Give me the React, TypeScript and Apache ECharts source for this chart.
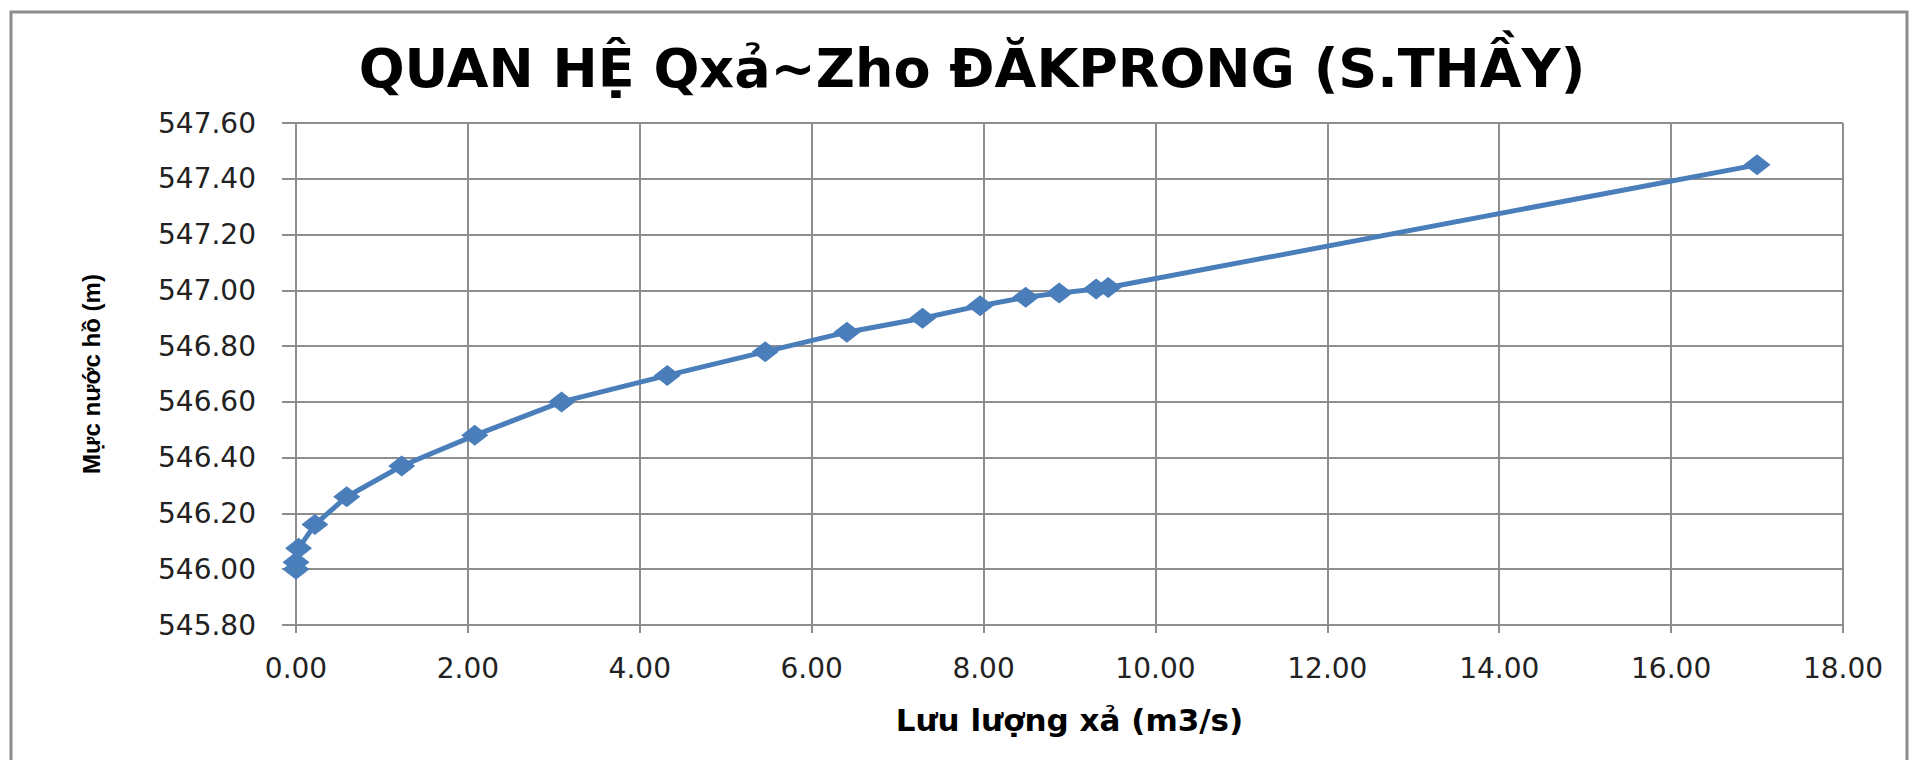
import React, { useEffect, useRef } from "react";
import * as echarts from "echarts";

const chartTitle = "QUAN HỆ Qxả~Zho ĐĂKPRONG (S.THẦY)";
const xAxisTitle = "Lưu lượng xả (m3/s)";
const yAxisTitle = "Mực nước hồ (m)";

// Discharge Q (m3/s)
const dischargeQ = [0, 0, 0.03, 0.22, 0.59, 1.23, 2.08, 3.09, 4.32, 5.46, 6.41, 7.29, 7.96, 8.49, 8.88, 9.31, 9.45, 17.0];
// Reservoir water level Z (m)
const waterLevelZ = [546.0, 546.025, 546.075, 546.16, 546.26, 546.37, 546.48, 546.6, 546.695, 546.78, 546.85, 546.9, 546.945, 546.975, 546.99, 547.005, 547.01, 547.45];

const xMin = 0;
const xMax = 18;
const xStep = 2;
const yMin = 545.8;
const yMax = 547.6;
const yStep = 0.2;

export default function App() {
  const ref = useRef<HTMLDivElement>(null);

  useEffect(() => {
    if (!ref.current) return;
    const chart = echarts.init(ref.current, undefined, { renderer: "svg" });
    const points = dischargeQ.map((q, i) => [q, waterLevelZ[i]]);
    const gridColor = "#8E8E8E";
    chart.setOption({
      animation: false,
      backgroundColor: "#ffffff",
      grid: { left: 296, right: 71, top: 123, bottom: 135, containLabel: false },
      graphic: [
        {
          type: "rect",
          shape: { x: 11, y: 12, width: 1896, height: 780 },
          style: { fill: "none", stroke: "#8C8C8C", lineWidth: 3 },
          silent: true,
        },
        {
          type: "text",
          x: 972,
          y: 68,
          style: {
            text: chartTitle,
            fontFamily: "DejaVu Sans",
            fontWeight: "bold",
            fontSize: 54,
            fill: "#000000",
            align: "center",
            verticalAlign: "middle",
          },
        },
      ],
      xAxis: {
        type: "value",
        min: xMin,
        max: xMax,
        interval: xStep,
        name: xAxisTitle,
        nameLocation: "middle",
        nameGap: 95,
        nameTextStyle: {
          fontFamily: "DejaVu Sans",
          fontWeight: "bold",
          fontSize: 31,
          color: "#000000",
          verticalAlign: "middle",
        },
        axisLine: { show: true, lineStyle: { color: gridColor, width: 2 } },
        axisTick: { show: true, inside: false, length: 8, lineStyle: { color: gridColor, width: 2 } },
        axisLabel: {
          margin: 29,
          fontFamily: "DejaVu Sans",
          fontSize: 28,
          color: "#222222",
          formatter: (v: number) => v.toFixed(2),
        },
        splitLine: { show: true, lineStyle: { color: gridColor, width: 2 } },
      },
      yAxis: {
        type: "value",
        min: yMin,
        max: yMax,
        interval: yStep,
        name: yAxisTitle,
        nameLocation: "middle",
        nameGap: 205,
        nameRotate: 90,
        nameTextStyle: {
          fontFamily: "Liberation Sans",
          fontWeight: "bold",
          fontSize: 24,
          color: "#000000",
          verticalAlign: "middle",
        },
        axisLine: { show: true, lineStyle: { color: gridColor, width: 2 } },
        axisTick: { show: true, inside: false, length: 14, lineStyle: { color: gridColor, width: 2 } },
        axisLabel: {
          margin: 40,
          fontFamily: "DejaVu Sans",
          fontSize: 28,
          color: "#222222",
          formatter: (v: number) => v.toFixed(2),
        },
        splitLine: { show: true, lineStyle: { color: gridColor, width: 2 } },
      },
      series: [
        {
          type: "line",
          data: points,
          smooth: false,
          symbol: "diamond",
          symbolSize: [27, 21],
          showSymbol: true,
          itemStyle: { color: "#4A7EBB" },
          lineStyle: { color: "#4A7EBB", width: 5 },
          clip: false,
        },
      ],
    });
    return () => chart.dispose();
  }, []);

  return (
    <div
      ref={ref}
      style={{ position: "fixed", left: 0, top: 0, width: 1914, height: 760, background: "#fff" }}
    />
  );
}
